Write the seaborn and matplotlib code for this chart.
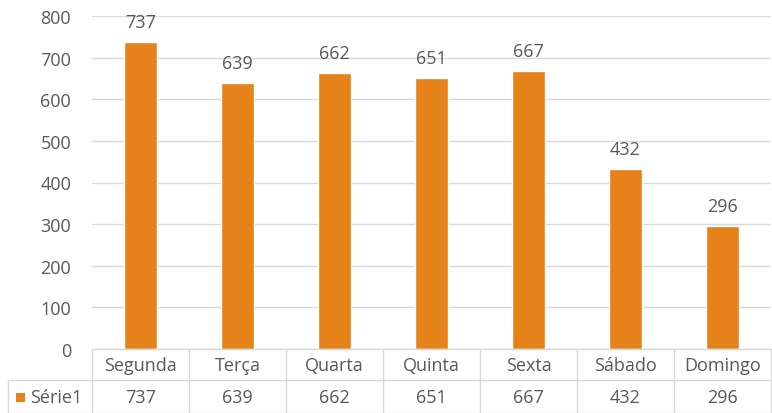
import matplotlib
matplotlib.use("Agg")
import matplotlib.pyplot as plt
import seaborn as sns
import pandas as pd
from matplotlib.patches import Rectangle

categories = ["Segunda", "Terça", "Quarta", "Quinta", "Sexta", "Sábado", "Domingo"]
values = [737, 639, 662, 651, 667, 432, 296]
series_name = "Série1"
yticks = [0, 100, 200, 300, 400, 500, 600, 700, 800]

sns.set_theme(style="white")
plt.rcParams['font.family'] = ['Open Sans', 'DejaVu Sans']

W, H = 772, 414
fig = plt.figure(figsize=(W / 100, H / 100), dpi=100)
x0, x1 = 92, 771
ytop, ybot = 17, 350
ax = fig.add_axes([x0 / W, 1 - ybot / H, (x1 - x0) / W, (ybot - ytop) / H])

orange = "#E6821A"
grey = "#595959"
linec = "#D9D9D9"
fs = 13

df = pd.DataFrame({"day": categories, "val": values})
sns.barplot(data=df, x="day", y="val", color=orange, width=0.33, ax=ax, saturation=1)
ax.set_ylim(0, 800)
ax.set_xlim(-0.5, len(categories) - 0.5)
ax.set_yticks(yticks)
ax.set_yticklabels([str(t) for t in yticks], fontsize=fs, color=grey)
ax.tick_params(axis="y", length=0, pad=15)
ax.set_xticks([])
ax.set_xlabel("")
ax.set_ylabel("")
ax.yaxis.grid(True, color=linec, linewidth=1)
ax.set_axisbelow(True)
for s in ax.spines.values():
    s.set_visible(False)

for c in ax.containers:
    ax.bar_label(c, labels=[str(v) for v in values], padding=8, fontsize=fs, color=grey)

# data table
def fx(px):
    return px / W
def fy(py):
    return 1 - py / H

col_w = (x1 - x0) / len(categories)
lw = 1
fig.add_artist(plt.Line2D([fx(x0), fx(x1)], [fy(350), fy(350)], color=linec, lw=lw))
fig.add_artist(plt.Line2D([fx(8), fx(x1)], [fy(381), fy(381)], color=linec, lw=lw))
fig.add_artist(plt.Line2D([fx(8), fx(x1)], [fy(413.5), fy(413.5)], color=linec, lw=lw))
fig.add_artist(plt.Line2D([fx(8), fx(8)], [fy(381), fy(414)], color=linec, lw=lw))
for i in range(len(categories) + 1):
    xp = x0 + i * col_w
    fig.add_artist(plt.Line2D([fx(xp), fx(xp)], [fy(350), fy(414)], color=linec, lw=lw))

for i, (cat, v) in enumerate(zip(categories, values)):
    xc = x0 + (i + 0.5) * col_w
    fig.text(fx(xc), fy(366), cat, ha="center", va="center", fontsize=fs, color=grey)
    fig.text(fx(xc), fy(398), str(v), ha="center", va="center", fontsize=fs, color=grey)

fig.add_artist(Rectangle((fx(16), fy(403)), 9 / W, 9 / H, transform=fig.transFigure,
                         facecolor=orange, edgecolor="none"))
fig.text(fx(30), fy(398), series_name, ha="left", va="center", fontsize=fs, color=grey)

fig.savefig("out.png", dpi=100)
